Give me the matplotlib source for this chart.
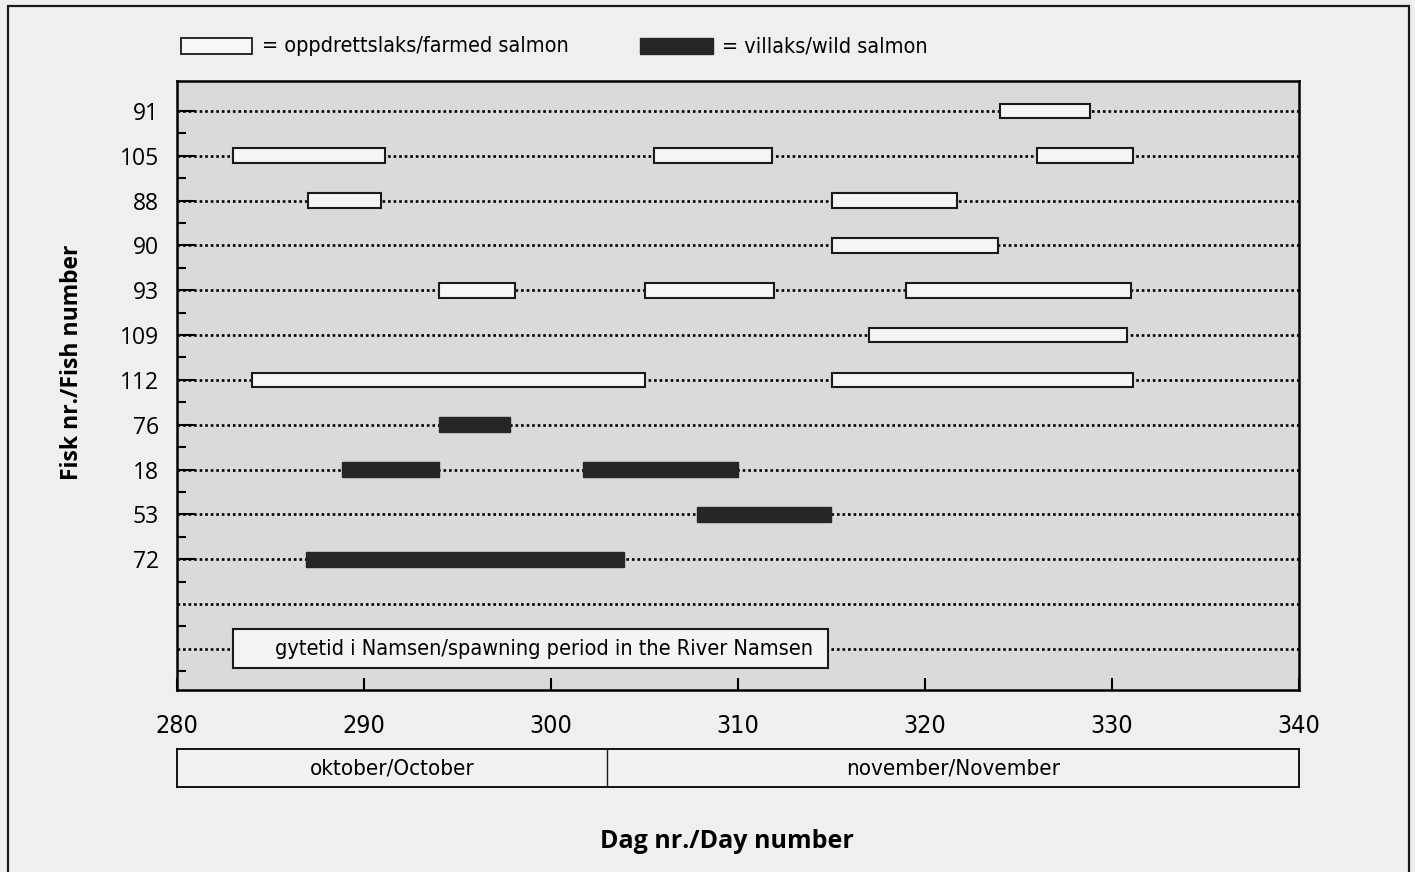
import matplotlib
matplotlib.use('Agg')
import matplotlib.pyplot as plt
from matplotlib import font_manager
from matplotlib.patches import Rectangle

# fish ids top to bottom (one row each), then an empty row and the spawning row
fish_ids = ['91', '105', '88', '90', '93', '109', '112', '76', '18', '53', '72']

# farmed salmon periods (day numbers)
farmed_fish = ['91', '105', '105', '105', '88', '88', '90',
               '93', '93', '93', '109', '112', '112']
farmed_start = [324.0, 283.0, 305.5, 326.0, 287.0, 315.0, 315.0,
                294.0, 305.0, 319.0, 317.0, 284.0, 315.0]
farmed_end = [328.8, 291.1, 311.8, 331.1, 290.9, 321.7, 323.9,
              298.1, 311.9, 331.0, 330.8, 305.0, 331.1]

# wild salmon periods
wild_fish = ['76', '18', '18', '53', '72']
wild_start = [294.0, 288.8, 301.7, 307.8, 286.9]
wild_end = [297.8, 294.0, 310.0, 315.0, 303.9]

spawn_start, spawn_end = 283.0, 314.8
spawn_label = 'gytetid i Namsen/spawning period in the River Namsen'

month_edges = [280, 303, 340]
month_names = ['oktober/October', 'november/November']

xticks = [280, 290, 300, 310, 320, 330, 340]

# look for a narrow face on disk, the print uses a condensed sans
narrow_file = None
for key in ['LiberationSansNarrow-Regular', 'DejaVuSansCondensed.ttf']:
    hits = [f.fname for f in font_manager.fontManager.ttflist if key in f.fname]
    if hits:
        narrow_file = hits[0]
        break
if narrow_file:
    def nfont(size):
        return font_manager.FontProperties(fname=narrow_file, size=size)
else:
    def nfont(size):
        return font_manager.FontProperties(family='Open Sans', size=size * 0.86)

plt.rcParams['font.family'] = ['Open Sans', 'DejaVu Sans']

W, H = 1415, 872
fig = plt.figure(figsize=(W / 100, H / 100), dpi=100, facecolor='#efefef')

ax = fig.add_axes([177 / W, 1 - 690 / H, 1122 / W, 609 / H], facecolor='#dadada')

rows = {f: i for i, f in enumerate(fish_ids)}
n_rows = len(fish_ids) + 2
spawn_row = n_rows - 1

ax.hlines(range(n_rows), 280, 340, colors='black', linestyles=(0, (1, 1.1)),
          lw=1.9, zorder=1)

bar_h = 0.33
ax.barh([rows[f] for f in farmed_fish],
        [e - s for s, e in zip(farmed_start, farmed_end)],
        left=farmed_start, height=bar_h, color='#f5f5f5',
        edgecolor='#1a1a1a', linewidth=1.5, zorder=3)
ax.barh([rows[f] for f in wild_fish],
        [e - s for s, e in zip(wild_start, wild_end)],
        left=wild_start, height=bar_h, color='#262626',
        edgecolor='#262626', linewidth=1.0, zorder=3)

ax.barh(spawn_row, spawn_end - spawn_start, left=spawn_start, height=0.87,
        color='#f4f4f4', edgecolor='#1a1a1a', linewidth=1.5, zorder=3)
ax.text(spawn_start + 2.25, spawn_row, spawn_label, fontproperties=nfont(15.6),
        va='center', ha='left', zorder=4)

ax.set_xlim(280, 340)
ax.set_ylim(12.92, -0.67)
ax.set_xticks(xticks)
ax.set_xticklabels([str(t) for t in xticks], fontproperties=nfont(18))
ax.set_yticks(range(len(fish_ids)))
ax.set_yticklabels(fish_ids, fontsize=16.5)
ax.set_yticks([i + 0.5 for i in range(n_rows)], minor=True)
ax.tick_params(axis='x', direction='in', length=8.5, width=1.5, pad=17)
ax.tick_params(axis='y', which='major', direction='in', length=13, width=1.5, pad=13)
ax.tick_params(axis='y', which='minor', direction='in', length=6.5, width=1.5)
for sp in ax.spines.values():
    sp.set_linewidth(1.8)

# month band under the axis
mx = fig.add_axes([177 / W, 1 - 787 / H, 1122 / W, 38 / H], facecolor='#f1f1f1')
mx.set_xlim(280, 340)
mx.set_ylim(0, 1)
mx.axvline(month_edges[1], color='#1a1a1a', lw=1.0)
for a, b, name in zip(month_edges[:-1], month_edges[1:], month_names):
    mx.text((a + b) / 2, 0.5, name, ha='center', va='center', fontproperties=nfont(16))
mx.set_xticks([])
mx.set_yticks([])
for sp in mx.spines.values():
    sp.set_linewidth(1.3)

fig.text(727 / W, 1 - 841 / H, 'Dag nr./Day number', ha='center', va='center',
         fontsize=18, fontweight='bold')
fig.text(72 / W, 1 - 362 / H, 'Fisk nr./Fish number', ha='center', va='center',
         rotation=90, fontsize=16.5, fontweight='bold')

# legend drawn by hand at the top
fig.patches.append(Rectangle((181 / W, 1 - 54 / H), 71 / W, 16 / H,
                             transform=fig.transFigure, facecolor='#f7f7f7',
                             edgecolor='#1a1a1a', lw=1.3))
fig.text(262 / W, 1 - 46 / H, '= oppdrettslaks/farmed salmon', va='center',
         fontproperties=nfont(15.5))
fig.patches.append(Rectangle((640 / W, 1 - 54 / H), 73 / W, 16 / H,
                             transform=fig.transFigure, facecolor='#262626',
                             edgecolor='#262626', lw=1.0))
fig.text(722 / W, 1 - 46 / H, '= villaks/wild salmon', va='center',
         fontproperties=nfont(15.5))

# outer frame of the figure box
fig.patches.append(Rectangle((8 / W, -0.05), 1401 / W, 1.05 - 6 / H,
                             transform=fig.transFigure, fill=False,
                             edgecolor='#1a1a1a', lw=1.6))

fig.savefig('out.png', dpi=100, facecolor=fig.get_facecolor())
